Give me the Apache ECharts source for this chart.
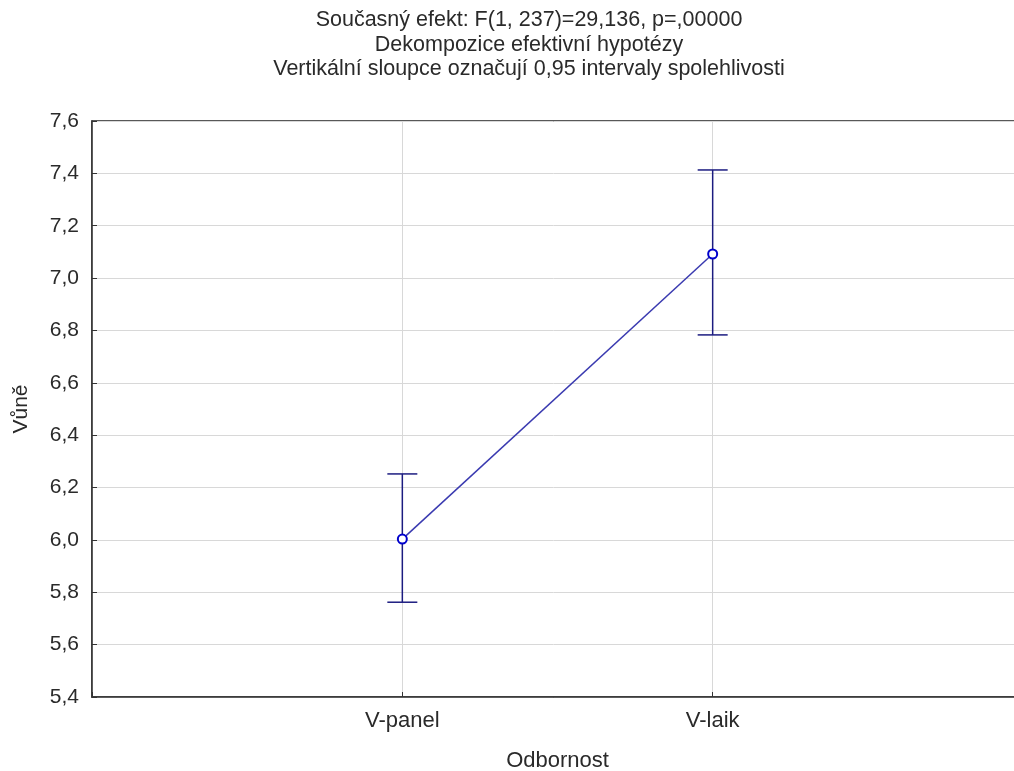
<!DOCTYPE html>
<html>
<head>
<meta charset="utf-8">
<script src="https://cdn.jsdelivr.net/npm/echarts@6/dist/echarts.min.js"></script>
<style>
html,body{margin:0;padding:0;background:#fff;}
#chart{width:1014px;height:771px;}
</style>
</head>
<body>
<div id="chart"></div>
<script>
var categories = ['', 'V-panel', 'V-laik', ''];
var means = [null, 6.003, 7.092, null];
var lower = [null, 5.762, 6.783, null];
var upper = [null, 6.252, 7.413, null];
var yTicks = [5.4, 5.6, 5.8, 6.0, 6.2, 6.4, 6.6, 6.8, 7.0, 7.2, 7.4, 7.6];
var titleLines = ['Současný efekt: F(1, 237)=29,136, p=,00000', 'Dekompozice efektivní hypotézy', 'Vertikální sloupce označují 0,95 intervaly spolehlivosti'];

var errData = [];
for (var i = 0; i < categories.length; i++) {
  if (means[i] !== null) errData.push([i, lower[i], upper[i]]);
}

var chart = echarts.init(document.getElementById('chart'));
var font = 'Liberation Sans, Arial, sans-serif';
chart.setOption({
  backgroundColor: '#fff',
  animation: false,
  title: {
    text: titleLines.join('\n'),
    left: 524, top: 3, textAlign: 'center',
    textStyle: {fontFamily: font, fontSize: 21.5, fontWeight: 'normal', color: '#2a2a2a', lineHeight: 24.5}
  },
  grid: {left: 92, right: -9, top: 121, bottom: 74, show: true, borderColor: '#222', borderWidth: 1.5, backgroundColor: '#fff', outerBoundsMode: 'none', containLabel: false},
  xAxis: {
    type: 'category', data: categories, boundaryGap: false,
    name: 'Odbornost', nameLocation: 'middle', nameGap: 53,
    nameTextStyle: {fontFamily: font, fontSize: 22, color: '#2a2a2a'},
    axisLine: {lineStyle: {color: '#333', width: 1.5}},
    axisTick: {inside: true, length: 5, lineStyle: {color: '#333'}, interval: 0},
    axisLabel: {fontFamily: font, fontSize: 22, color: '#2a2a2a', margin: 13, interval: 0},
    splitLine: {show: true, lineStyle: {color: '#d8d8d8', width: 1}}
  },
  yAxis: {
    type: 'value', min: 5.4, max: 7.6, interval: 0.2,
    name: 'Vůně', nameLocation: 'middle', nameGap: 60, nameRotate: 90,
    nameTextStyle: {fontFamily: font, fontSize: 21, color: '#2a2a2a'},
    axisLine: {show: true, lineStyle: {color: '#333', width: 1.5}},
    axisTick: {show: true, inside: true, length: 5, lineStyle: {color: '#333'}},
    axisLabel: {fontFamily: font, fontSize: 21, color: '#2a2a2a', margin: 13,
      formatter: function (v) { return v.toFixed(1).replace('.', ','); }},
    splitLine: {show: true, lineStyle: {color: '#d8d8d8', width: 1}}
  },
  series: [
    {
      type: 'custom',
      z: 3,
      data: errData,
      renderItem: function (params, api) {
        var x = api.value(0);
        var lo = api.coord([x, api.value(1)]);
        var hi = api.coord([x, api.value(2)]);
        var hw = 15;
        var st = {stroke: '#1c1c80', lineWidth: 1.5};
        return {type: 'group', children: [
          {type: 'line', shape: {x1: lo[0], y1: lo[1], x2: hi[0], y2: hi[1]}, style: st},
          {type: 'line', shape: {x1: lo[0] - hw, y1: lo[1], x2: lo[0] + hw, y2: lo[1]}, style: st},
          {type: 'line', shape: {x1: hi[0] - hw, y1: hi[1], x2: hi[0] + hw, y2: hi[1]}, style: st}
        ]};
      }
    },
    {
      type: 'line', z: 4,
      data: means,
      connectNulls: false,
      symbol: 'circle', symbolSize: 9,
      itemStyle: {color: '#fff', borderColor: '#0000cc', borderWidth: 2},
      lineStyle: {color: '#3a3ab0', width: 1.5}
    }
  ]
});
</script>
</body>
</html>
